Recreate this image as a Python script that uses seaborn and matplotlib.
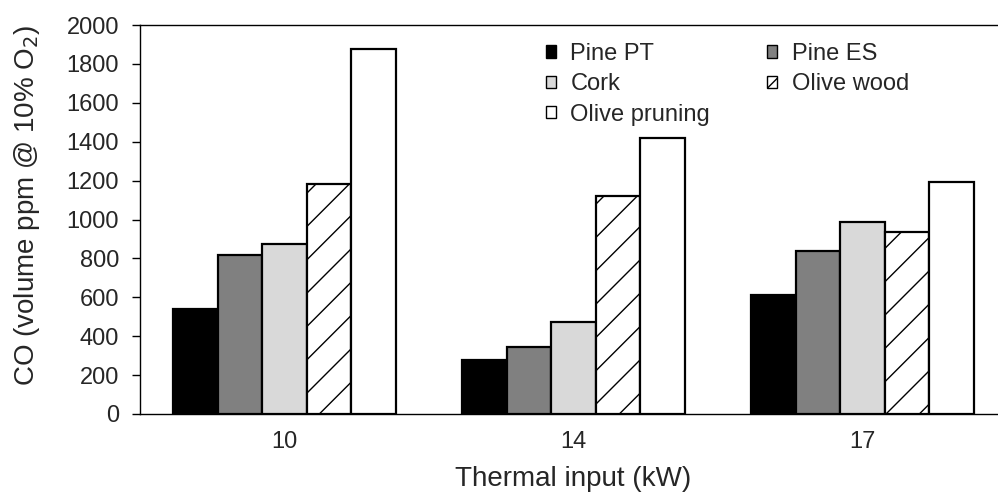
import matplotlib
matplotlib.use("Agg")
import matplotlib.pyplot as plt
import seaborn as sns
import pandas as pd
from matplotlib.ticker import FixedLocator
from matplotlib.patches import Patch

# Data: CO emissions per fuel at each thermal input
thermal_inputs = ["10", "14", "17"]
fuels = ["Pine PT", "Pine ES", "Cork", "Olive wood", "Olive pruning"]
pine_pt = [540, 280, 610]
pine_es = [820, 345, 840]
cork = [875, 475, 985]
olive_wood = [1180, 1120, 935]
olive_pruning = [1875, 1420, 1195]

fills = ["#000000", "#808080", "#d9d9d9", "#ffffff", "#ffffff"]
hatches = ["", "", "", "/", ""]

series = [pine_pt, pine_es, cork, olive_wood, olive_pruning]
rows = []
for fuel, vals in zip(fuels, series):
    for ti, v in zip(thermal_inputs, vals):
        rows.append({"Thermal input": ti, "Fuel": fuel, "CO": v})
df = pd.DataFrame(rows)

sns.set_style("white")
plt.rcParams["font.family"] = ["Liberation Sans", "DejaVu Sans"]
plt.rcParams["hatch.linewidth"] = 1.0

fig = plt.figure(figsize=(9.98, 4.96), dpi=100)
ax = fig.add_axes([140 / 998, 82 / 496, 867 / 998, 389 / 496])

sns.barplot(data=df, x="Thermal input", y="CO", hue="Fuel",
            order=thermal_inputs, hue_order=fuels,
            palette=fills, width=0.77, saturation=1,
            edgecolor="black", linewidth=1.6, ax=ax, legend=False)

for cont, h in zip(ax.containers, hatches):
    for bar in cont:
        bar.set_hatch(h)

ax.set_ylim(0, 2000)
ax.set_xlim(-0.5, 2.5)
ax.set_yticks(range(0, 2001, 200))

# Category separators as outward ticks on the x axis
ax.xaxis.set_minor_locator(FixedLocator([-0.5, 0.5, 1.5, 2.5]))
ax.tick_params(axis="x", which="major", length=0, pad=12, labelsize=17)
ax.tick_params(axis="x", which="minor", length=8, width=1, color="black", direction="out")
ax.tick_params(axis="y", which="major", length=6, width=1, color="black",
               direction="out", left=True, pad=9, labelsize=17)

for s in ax.spines.values():
    s.set_color("black")
    s.set_linewidth(1.0)

ax.set_xlabel("Thermal input (kW)", fontsize=20, va="top")
ax.xaxis.set_label_coords(0.5, -0.134)
ax.set_ylabel("CO (volume ppm @ 10% O$_2$)", fontsize=20)
ax.yaxis.set_label_coords(-0.113, 0.537)

# Legend filled row by row: two columns
handles = [Patch(facecolor=f, edgecolor="black", hatch=h * 3, linewidth=1.0)
           for f, h in zip(fills, hatches)]
order = [0, 2, 4, 1, 3]
ax.legend([handles[i] for i in order], [fuels[i] for i in order],
          ncol=2, frameon=False, fontsize=17,
          loc="upper left", bbox_to_anchor=(0.457, 0.978),
          handlelength=0.45, handleheight=0.45, handletextpad=0.6,
          columnspacing=2.4, labelspacing=0.35, borderaxespad=0)

fig.savefig("out.png", dpi=100)
